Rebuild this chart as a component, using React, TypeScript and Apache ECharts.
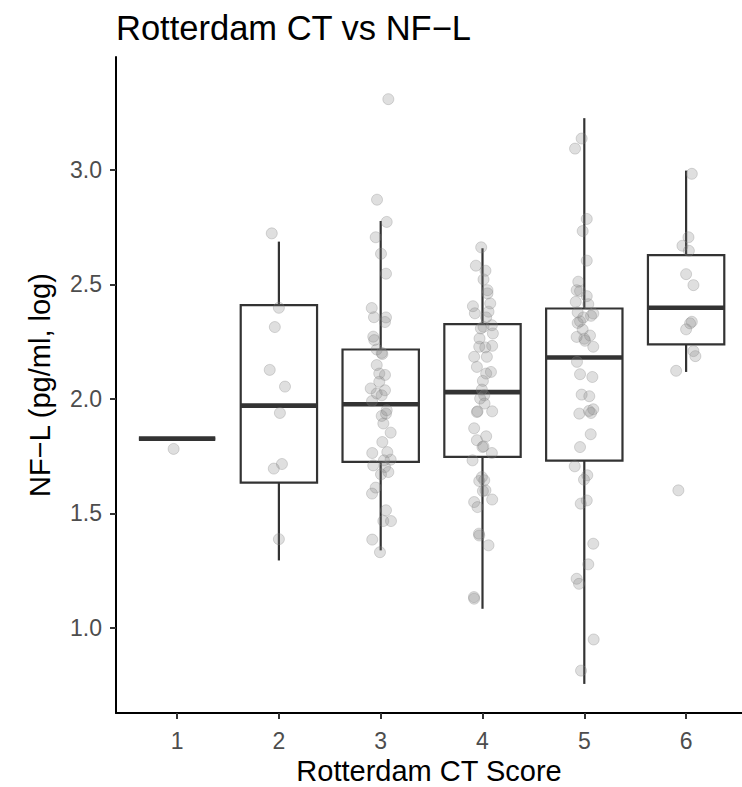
import React, { useEffect, useRef } from "react";
import * as echarts from "echarts";

const FONT = '"Liberation Sans", Arial, Helvetica, sans-serif';

const categories = [1, 2, 3, 4, 5, 6];
const xTicks = [1, 2, 3, 4, 5, 6];
const yTicks = [1.0, 1.5, 2.0, 2.5, 3.0];

// Box statistics per Rotterdam CT score
const boxMin = [1.827, 1.295, 1.339, 1.084, 0.756, 2.118];
const boxQ1 = [1.827, 1.635, 1.725, 1.747, 1.731, 2.238];
const boxMedian = [1.827, 1.971, 1.977, 2.030, 2.181, 2.398];
const boxQ3 = [1.827, 2.410, 2.216, 2.327, 2.395, 2.628];
const boxMax = [1.827, 2.687, 2.777, 2.658, 3.226, 2.997];

// Jittered observations (x position with jitter, NF-L value)
const pts1X = [0.966];
const pts1Y = [1.782];

const pts2X = [1.93, 2.0, 1.96, 1.91, 2.06, 2.01, 2.03, 1.95, 2.0];
const pts2Y = [2.723, 2.398, 2.314, 2.127, 2.054, 1.939, 1.716, 1.696, 1.388];

const pts3X = [
  3.075, 2.964, 3.059, 2.951, 3.003, 3.052, 2.912, 2.934, 3.052, 3.042,
  2.927, 2.937, 2.961, 3.01, 3.016, 2.961, 2.986, 3.042, 2.986, 2.902,
  3.042, 2.961, 3.01, 2.915, 3.059, 3.052, 3.01, 3.026, 3.098, 3.016,
  2.917, 3.065, 3.098, 3.032, 2.927, 3.042, 3.075, 3.003, 2.951, 2.915,
  3.052, 3.101, 3.026, 2.917, 2.993,
];
const pts3Y = [
  3.309, 2.87, 2.773, 2.706, 2.634, 2.547, 2.397, 2.357, 2.356, 2.336,
  2.272, 2.257, 2.216, 2.201, 2.196, 2.148, 2.111, 2.105, 2.075, 2.046,
  2.038, 2.024, 2.016, 1.991, 1.951, 1.936, 1.926, 1.893, 1.853, 1.812,
  1.764, 1.768, 1.735, 1.732, 1.71, 1.703, 1.681, 1.671, 1.613, 1.587,
  1.514, 1.467, 1.467, 1.386, 1.331,
];

const pts4X = [
  3.987, 3.935, 4.029, 4.01, 4.049, 4.049, 4.076, 3.906, 3.925, 4.059,
  4.036, 4.01, 4.092, 3.984, 4.102, 3.971, 3.968, 4.027, 4.095, 3.918,
  4.043, 3.945, 4.036, 4.083, 4.004, 3.994, 4.017, 3.977, 4.02, 3.951,
  3.945, 4.095, 3.918, 4.036, 3.945, 4.01, 4.0, 4.092, 3.902, 3.994,
  3.968, 4.017, 4.029, 4.004, 4.095, 3.918, 3.951, 3.965, 3.968, 4.059,
  3.918, 3.916,
];
const pts4Y = [
  2.662, 2.582, 2.56, 2.522, 2.475, 2.461, 2.417, 2.405, 2.374, 2.381,
  2.356, 2.315, 2.322, 2.308, 2.286, 2.264, 2.228, 2.225, 2.232, 2.184,
  2.184, 2.14, 2.111, 2.118, 2.079, 2.041, 2.016, 2.002, 1.98, 1.946,
  1.943, 1.946, 1.872, 1.837, 1.82, 1.793, 1.79, 1.764, 1.732, 1.659,
  1.642, 1.645, 1.601, 1.598, 1.561, 1.55, 1.528, 1.412, 1.404, 1.361,
  1.128, 1.135,
];

const pts5X = [
  4.974, 4.909, 5.024, 4.984, 5.024, 4.941, 4.925, 4.958, 5.024, 4.916,
  5.039, 4.935, 5.088, 5.066, 4.99, 4.958, 4.935, 4.984, 4.925, 5.056,
  5.0, 5.007, 5.088, 4.928, 4.958, 5.079, 4.974, 5.049, 4.951, 5.046,
  5.088, 5.066, 5.063, 4.958, 4.906, 5.029, 4.997, 5.024, 4.965, 5.088,
  5.039, 4.925, 4.948, 5.092, 4.968,
];
const pts5Y = [
  3.137, 3.093, 2.786, 2.733, 2.604, 2.512, 2.475, 2.471, 2.449, 2.424,
  2.414, 2.378, 2.373, 2.363, 2.356, 2.339, 2.332, 2.303, 2.271, 2.277,
  2.263, 2.254, 2.228, 2.162, 2.108, 2.096, 2.019, 2.012, 1.936, 1.948,
  1.955, 1.939, 1.846, 1.79, 1.706, 1.667, 1.648, 1.557, 1.543, 1.368,
  1.278, 1.215, 1.193, 0.95, 0.814,
];

const pts6X = [
  6.056, 6.023, 5.964, 6.027, 6.0, 6.072, 6.056, 6.039, 6.0, 6.072,
  6.091, 5.902, 5.924,
];
const pts6Y = [
  2.983, 2.706, 2.669, 2.647, 2.545, 2.497, 2.337, 2.33, 2.304, 2.209,
  2.187, 2.123, 1.601,
];

const groupsX = [pts1X, pts2X, pts3X, pts4X, pts5X, pts6X];
const groupsY = [pts1Y, pts2Y, pts3Y, pts4Y, pts5Y, pts6Y];

export default function App() {
  const ref = useRef<HTMLDivElement>(null);

  useEffect(() => {
    if (!ref.current) return;
    const chart = echarts.init(ref.current, null, { renderer: "svg" });

    const boxData = categories.map((c, i) => [
      c,
      boxMin[i],
      boxQ1[i],
      boxMedian[i],
      boxQ3[i],
      boxMax[i],
    ]);

    const pointData: number[][] = [];
    groupsX.forEach((xs, g) => {
      xs.forEach((x, j) => pointData.push([x, groupsY[g][j]]));
    });

    const LINE = "#333333";

    const option: any = {
      animation: false,
      backgroundColor: "#ffffff",
      grid: { left: 116, right: 0, top: 57, bottom: 74 },
      xAxis: {
        type: "value",
        min: 0.4,
        max: 6.549,
        axisLine: { show: true, onZero: false, lineStyle: { color: "#000", width: 2 } },
        axisTick: {
          show: true,
          length: 6,
          customValues: xTicks,
          lineStyle: { color: LINE, width: 2 },
        },
        axisLabel: {
          show: true,
          customValues: xTicks,
          color: "#4d4d4d",
          fontSize: 23,
          fontFamily: FONT,
          margin: 16,
          formatter: (v: number) => String(v),
        },
        splitLine: { show: false },
      },
      yAxis: {
        type: "value",
        min: 0.629,
        max: 3.493,
        axisLine: { show: true, onZero: false, lineStyle: { color: "#000", width: 2 } },
        axisTick: {
          show: true,
          length: 6,
          customValues: yTicks,
          lineStyle: { color: LINE, width: 2 },
        },
        axisLabel: {
          show: true,
          customValues: yTicks,
          color: "#4d4d4d",
          fontSize: 23,
          fontFamily: FONT,
          margin: 14,
          formatter: (v: number) => v.toFixed(1),
        },
        splitLine: { show: false },
      },
      graphic: [
        {
          type: "text",
          left: 116,
          top: 10,
          style: {
            text: "Rotterdam CT vs NF\u2212L",
            fontSize: 34.5,
            fontFamily: FONT,
            fill: "#000",
          },
        },
        {
          type: "text",
          x: 40,
          y: 385,
          rotation: Math.PI / 2,
          style: {
            text: "NF\u2212L (pg/ml, log)",
            fontSize: 29,
            fontFamily: FONT,
            fill: "#000",
            align: "center",
            verticalAlign: "middle",
          },
        },
        {
          type: "text",
          x: 429,
          y: 771,
          style: {
            text: "Rotterdam CT Score",
            fontSize: 29,
            fontFamily: FONT,
            fill: "#000",
            align: "center",
            verticalAlign: "middle",
          },
        },
      ],
      series: [
        {
          type: "custom",
          z: 2,
          data: boxData,
          encode: { x: 0, y: [1, 2, 3, 4, 5] },
          renderItem: (_params: any, api: any) => {
            const x = api.value(0);
            const lo = api.value(1);
            const q1 = api.value(2);
            const med = api.value(3);
            const q3 = api.value(4);
            const hi = api.value(5);
            const hw = 0.375;
            const pTL = api.coord([x - hw, q3]);
            const pBR = api.coord([x + hw, q1]);
            const pHi = api.coord([x, hi]);
            const pLo = api.coord([x, lo]);
            const pMed = api.coord([x, med]);
            const xc = pHi[0];
            const stroke = { stroke: LINE, lineWidth: 2.2, fill: "none" };
            return {
              type: "group",
              children: [
                {
                  type: "line",
                  shape: { x1: xc, y1: pTL[1], x2: xc, y2: pHi[1] },
                  style: stroke,
                },
                {
                  type: "line",
                  shape: { x1: xc, y1: pBR[1], x2: xc, y2: pLo[1] },
                  style: stroke,
                },
                {
                  type: "rect",
                  shape: {
                    x: pTL[0],
                    y: pTL[1],
                    width: pBR[0] - pTL[0],
                    height: pBR[1] - pTL[1],
                  },
                  style: { stroke: LINE, lineWidth: 2.2, fill: "#ffffff" },
                },
                {
                  type: "line",
                  shape: { x1: pTL[0], y1: pMed[1], x2: pBR[0], y2: pMed[1] },
                  style: { stroke: LINE, lineWidth: 4.6 },
                },
              ],
            };
          },
        },
        {
          type: "scatter",
          z: 3,
          data: pointData,
          symbol: "circle",
          symbolSize: 11,
          itemStyle: {
            color: "rgba(128,128,128,0.25)",
            borderColor: "rgba(128,128,128,0.3)",
            borderWidth: 1,
            opacity: 1,
          },
          emphasis: { disabled: true },
        },
      ],
    };

    chart.setOption(option);
    return () => chart.dispose();
  }, []);

  return <div ref={ref} style={{ width: 742, height: 787, position: "absolute", left: 0, top: 0 }} />;
}
